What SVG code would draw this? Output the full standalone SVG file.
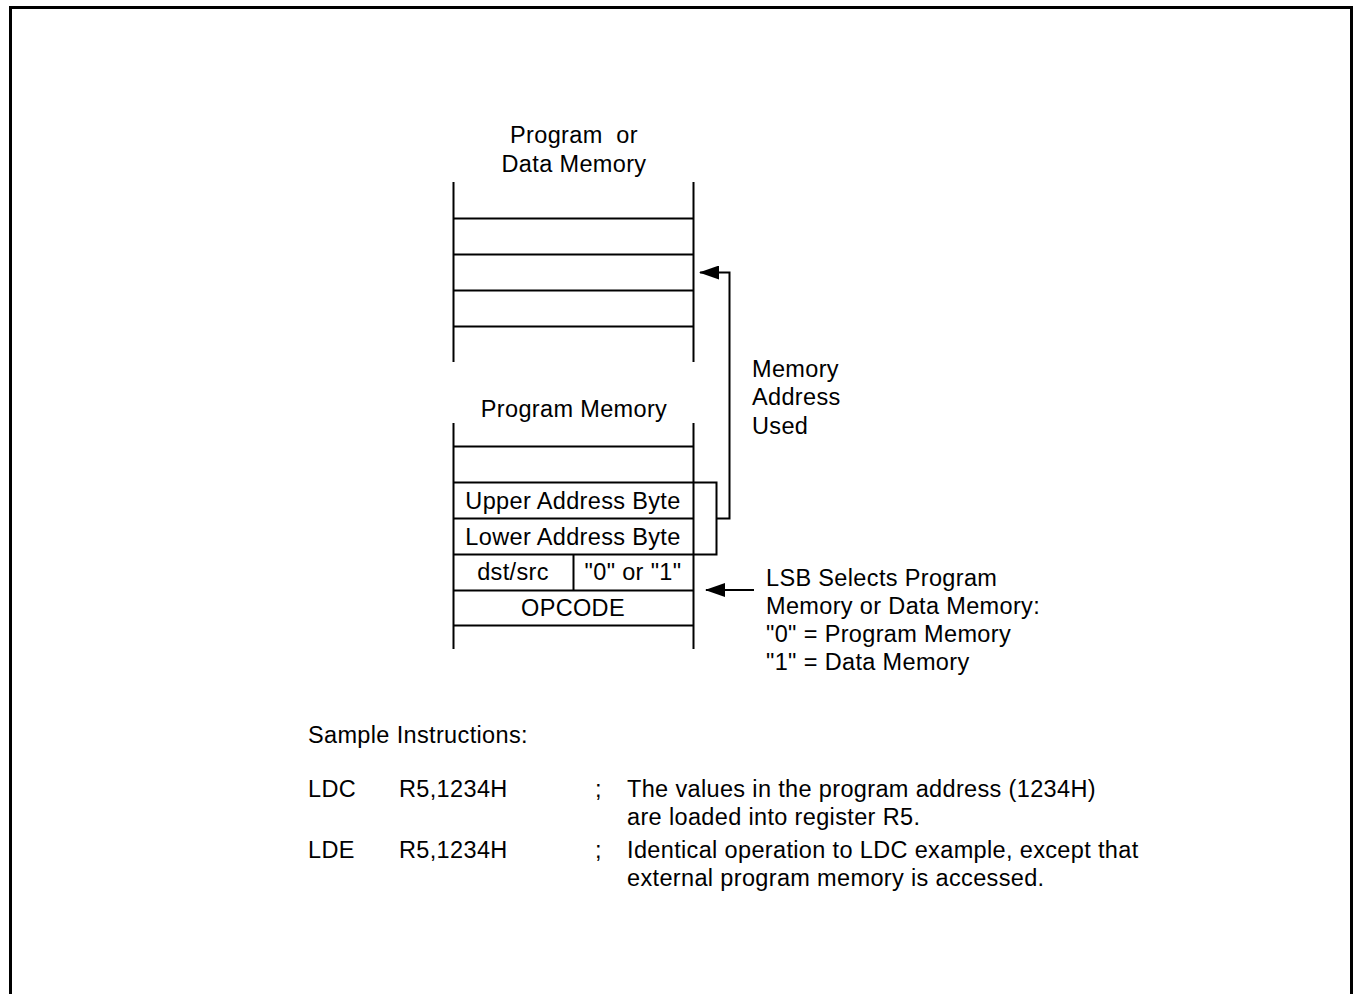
<svg xmlns="http://www.w3.org/2000/svg" width="1353" height="994" viewBox="0 0 1353 994">
<style>
text{font-family:"Liberation Sans",Arial,sans-serif;font-size:23.5px;letter-spacing:0.35px;fill:#000}
.c{text-anchor:middle}
.ln{stroke:#000;stroke-width:2;fill:none}
</style>
<defs>
<marker id="ah" markerWidth="20" markerHeight="14" refX="19" refY="7" orient="auto" markerUnits="userSpaceOnUse">
<path d="M0,0 L20,7 L0,14 Z" fill="#000"/>
</marker>
</defs>
<rect width="1353" height="994" fill="#fff"/>
<path d="M10.5,994 V7.5 H1351.5 V994" fill="none" stroke="#000" stroke-width="3"/>

<g id="node-data-memory">
<text class="c" x="574" y="143" xml:space="preserve">Program  or</text>
<text class="c" x="574" y="172">Data Memory</text>
<path class="ln" d="M453.5,182 V362 M693.5,182 V362 M453,218.5 H694 M453,254.5 H694 M453,290.5 H694 M453,326.5 H694"/>
</g>

<g id="node-program-memory">
<text class="c" x="574" y="417">Program Memory</text>
<path class="ln" d="M453.5,423 V649 M693.5,423 V649 M453,446.5 H694 M453,482.5 H694 M453,518.5 H694 M453,554.5 H694 M453,590.5 H694 M453,625.5 H694 M573.5,554 V590"/>
<text class="c" x="573" y="509">Upper Address Byte</text>
<text class="c" x="573" y="545">Lower Address Byte</text>
<text class="c" x="513" y="580">dst/src</text>
<text class="c" x="633" y="580">"0" or "1"</text>
<text class="c" x="573" y="616">OPCODE</text>
</g>

<g id="connectors">
<path class="ln" d="M694,482.5 H716.5 V554.5 H694"/>
<path class="ln" d="M716.5,518.5 H729.5 V272.5 H700" marker-end="url(#ah)"/>
<path class="ln" d="M754,590 H706" marker-end="url(#ah)"/>
</g>

<g id="label-memory-address">
<text x="752" y="377">Memory</text>
<text x="752" y="405">Address</text>
<text x="752" y="434">Used</text>
</g>

<g id="label-lsb">
<text x="766" y="586">LSB Selects Program</text>
<text x="766" y="614">Memory or Data Memory:</text>
<text x="766" y="642">"0" = Program Memory</text>
<text x="766" y="670">"1" = Data Memory</text>
</g>

<g id="samples">
<text x="308" y="743">Sample Instructions:</text>
<text x="308" y="797">LDC</text>
<text x="399" y="797">R5,1234H</text>
<text x="595" y="797">;</text>
<text x="627" y="797">The values in the program address (1234H)</text>
<text x="627" y="825">are loaded into register R5.</text>
<text x="308" y="858">LDE</text>
<text x="399" y="858">R5,1234H</text>
<text x="595" y="858">;</text>
<text x="627" y="858">Identical operation to LDC example, except that</text>
<text x="627" y="886">external program memory is accessed.</text>
</g>
</svg>
